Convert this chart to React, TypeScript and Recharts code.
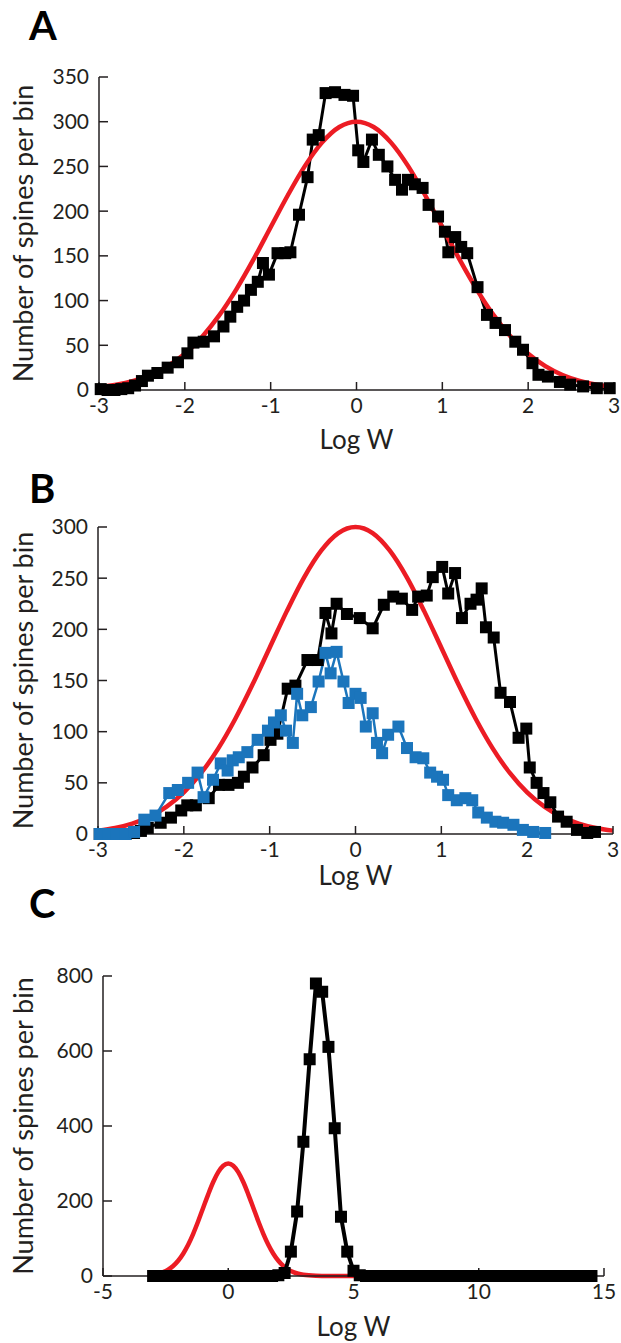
import React from 'react';
import { LineChart, Line, XAxis, YAxis } from 'recharts';

const ink = '#231f20';
const black = '#000000';
const red = '#ec1c24';
const blue = '#1b75bc';
const font = 'Lato, "Open Sans", sans-serif';

// Panel A - measured spines
const logWA = [-2.98, -2.9, -2.82, -2.74, -2.66, -2.58, -2.5, -2.43, -2.32, -2.2, -2.08, -1.97, -1.9, -1.78, -1.66, -1.55, -1.47, -1.39, -1.31, -1.23, -1.15, -1.09, -1.02, -0.92, -0.83, -0.77, -0.67, -0.57, -0.51, -0.44, -0.36, -0.25, -0.14, -0.04, 0.02, 0.08, 0.18, 0.26, 0.36, 0.45, 0.53, 0.6, 0.68, 0.77, 0.84, 0.95, 1.03, 1.07, 1.15, 1.22, 1.29, 1.41, 1.52, 1.62, 1.73, 1.85, 1.94, 2.05, 2.12, 2.23, 2.37, 2.49, 2.64, 2.8, 2.95];
const spinesA = [1, 0, 0, 1, 2, 5, 10, 16, 19, 25, 31, 41, 53, 54, 60, 71, 82, 93, 100, 112, 121, 142, 129, 153, 153, 154, 196, 238, 280, 285, 332, 333, 330, 329, 268, 255, 280, 263, 250, 235, 224, 235, 230, 226, 207, 194, 177, 154, 171, 160, 153, 115, 84, 75, 67, 54, 45, 30, 17, 15, 9, 6, 4, 2, 2];

// fitted lognormal (red), same in every panel
const fitLogW = [-3, -2.8, -2.6, -2.4, -2.2, -2, -1.8, -1.6, -1.4, -1.2, -1, -0.8, -0.6, -0.4, -0.2, 0, 0.2, 0.4, 0.6, 0.8, 1, 1.2, 1.4, 1.6, 1.8, 2, 2.2, 2.4, 2.6, 2.8, 3];
const fitSpines = [3.3, 5.9, 10.2, 16.8, 26.7, 40.6, 59.4, 83.4, 112.6, 146, 182, 217.8, 250.6, 276.9, 294.1, 300, 294.1, 276.9, 250.6, 217.8, 182, 146, 112.6, 83.4, 59.4, 40.6, 26.7, 16.8, 10.2, 5.9, 3.3];

// Panel B - black and blue populations
const logWB = [-2.98, -2.88, -2.78, -2.68, -2.58, -2.5, -2.42, -2.27, -2.15, -2.03, -1.96, -1.86, -1.71, -1.59, -1.48, -1.37, -1.3, -1.2, -1.07, -0.99, -0.91, -0.79, -0.7, -0.56, -0.44, -0.35, -0.28, -0.22, -0.1, 0.05, 0.2, 0.33, 0.44, 0.54, 0.66, 0.73, 0.83, 0.9, 1.01, 1.08, 1.16, 1.24, 1.34, 1.41, 1.47, 1.52, 1.61, 1.69, 1.8, 1.9, 1.99, 2.03, 2.11, 2.19, 2.27, 2.36, 2.46, 2.58, 2.7, 2.79];
const spinesB = [0, 0, 0, 0, 1, 3, 6, 11, 16, 23, 28, 28, 35, 48, 48, 50, 56, 65, 77, 92, 98, 142, 145, 170, 170, 216, 196, 225, 215, 211, 201, 224, 232, 230, 219, 232, 233, 251, 261, 235, 255, 211, 225, 229, 240, 202, 192, 138, 129, 94, 103, 65, 50, 40, 31, 17, 12, 4, 1, 2];
const logWBlue = [-2.98, -2.88, -2.78, -2.68, -2.58, -2.46, -2.33, -2.17, -2.07, -1.95, -1.84, -1.77, -1.66, -1.57, -1.49, -1.43, -1.36, -1.26, -1.14, -1.02, -0.95, -0.87, -0.81, -0.73, -0.68, -0.62, -0.52, -0.43, -0.35, -0.29, -0.22, -0.14, -0.08, 0, 0.06, 0.12, 0.2, 0.25, 0.31, 0.38, 0.5, 0.6, 0.7, 0.79, 0.87, 0.95, 1.02, 1.08, 1.18, 1.28, 1.36, 1.43, 1.53, 1.63, 1.72, 1.84, 1.95, 2.07, 2.21];
const spinesBlue = [0, 0, 0, 0, 2, 14, 18, 40, 43, 50, 60, 36, 53, 69, 62, 72, 75, 80, 92, 101, 109, 116, 101, 89, 137, 116, 124, 149, 177, 157, 178, 149, 128, 137, 133, 105, 118, 89, 79, 97, 105, 84, 75, 74, 60, 56, 53, 38, 33, 35, 33, 21, 16, 12, 11, 9, 4, 2, 1];

// Panel C - after potentiation
const logWC = [-3, -2.75, -2.5, -2.25, -2, -1.75, -1.5, -1.25, -1, -0.75, -0.5, -0.25, 0, 0.25, 0.5, 0.75, 1, 1.25, 1.5, 1.75, 2, 2.25, 2.5, 2.75, 3, 3.25, 3.5, 3.75, 4, 4.25, 4.5, 4.75, 5, 5.25, 5.5, 5.75, 6, 6.25, 6.5, 6.75, 7, 7.25, 7.5, 7.75, 8, 8.25, 8.5, 8.75, 9, 9.25, 9.5, 9.75, 10, 10.25, 10.5, 10.75, 11, 11.25, 11.5, 11.75, 12, 12.25, 12.5, 12.75, 13, 13.25, 13.5, 13.75, 14, 14.25, 14.5];
const spinesC = [0, 0, 0, 0, 0, 0, 0, 0, 0, 0, 0, 0, 0, 0, 0, 0, 0, 0, 0, 0, 2, 8, 65, 172, 358, 578, 780, 758, 611, 394, 158, 65, 14, 2, 0, 0, 0, 0, 0, 0, 0, 0, 0, 0, 0, 0, 0, 0, 0, 0, 0, 0, 0, 0, 0, 0, 0, 0, 0, 0, 0, 0, 0, 0, 0, 0, 0, 0, 0, 0, 0];
const fitLogWC = [-3, -2.8, -2.6, -2.4, -2.2, -2, -1.8, -1.6, -1.4, -1.2, -1, -0.8, -0.6, -0.4, -0.2, 0, 0.2, 0.4, 0.6, 0.8, 1, 1.2, 1.4, 1.6, 1.8, 2, 2.2, 2.4, 2.6, 2.8, 3, 3.5, 4, 5, 6, 8, 10, 12, 14.6];
const fitSpinesC = [3.3, 5.9, 10.2, 16.8, 26.7, 40.6, 59.4, 83.4, 112.6, 146, 182, 217.8, 250.6, 276.9, 294.1, 300, 294.1, 276.9, 250.6, 217.8, 182, 146, 112.6, 83.4, 59.4, 40.6, 26.7, 16.8, 10.2, 5.9, 3.3, 0.7, 0.1, 0, 0, 0, 0, 0, 0];

const ticksX = [-3, -2, -1, 0, 1, 2, 3];
const ticksYA = [0, 50, 100, 150, 200, 250, 300, 350];
const ticksYB = [0, 50, 100, 150, 200, 250, 300];
const ticksXC = [-5, 0, 5, 10, 15];
const ticksYC = [0, 200, 400, 600, 800];

const pairs = (xs: number[], ys: number[]) => xs.map((x, i) => ({ x, y: ys[i] }));

const squareDot = (size: number, fill: string) => (props: any) => {
  const { cx, cy, index } = props;
  if (cx == null || cy == null) return <g key={`e-${index}`} />;
  return <rect key={`sq-${index}`} x={cx - size / 2} y={cy - size / 2} width={size} height={size} fill={fill} />;
};

interface Series {
  data: { x: number; y: number }[];
  color: string;
  width: number;
  marker?: number;
}

interface PanelProps {
  top: number;
  height: number;
  plotTop: number;
  plotBottom: number;
  plotLeft: number;
  plotRight: number;
  xDomain: [number, number];
  xTicks: number[];
  yDomain: [number, number];
  yTicks: number[];
  labelOffset: number;
  series: Series[];
}

function Panel(p: PanelProps) {
  return (
    <div style={{ position: 'absolute', left: 0, top: p.top, width: 621, height: p.height }}>
      <LineChart
        width={621}
        height={p.height}
        margin={{ top: p.plotTop, right: 621 - p.plotRight, bottom: 0, left: 0 }}
      >
        <XAxis
          type="number"
          dataKey="x"
          domain={p.xDomain}
          ticks={p.xTicks}
          interval={0}
          height={p.height - p.plotBottom}
          tickSize={-8}
          tickMargin={16}
          axisLine={{ stroke: ink, strokeWidth: 1.5 }}
          tickLine={{ stroke: ink, strokeWidth: 1.5 }}
          tick={{ fontSize: 21, fill: ink, fontFamily: font }}
          label={{ value: 'Log W', position: 'insideBottom', offset: p.labelOffset, fontSize: 26, fill: ink, fontFamily: font }}
        />
        <YAxis
          type="number"
          domain={p.yDomain}
          ticks={p.yTicks}
          interval={0}
          width={p.plotLeft}
          tickSize={-9}
          tickMargin={19}
          axisLine={{ stroke: ink, strokeWidth: 1.5 }}
          tickLine={{ stroke: ink, strokeWidth: 1.5 }}
          tick={{ fontSize: 21, fill: ink, fontFamily: font }}
          label={{
            value: 'Number of spines per bin',
            angle: -90,
            position: 'center',
            dx: 23 - p.plotLeft / 2,
            fontSize: 27,
            fill: ink,
            fontFamily: font,
          }}
        />
        {p.series.map((s, i) => (
          <Line
            key={i}
            data={s.data}
            dataKey="y"
            type={s.marker ? 'linear' : 'monotone'}
            stroke={s.color}
            strokeWidth={s.width}
            dot={s.marker ? squareDot(s.marker, s.color) : false}
            activeDot={false}
            isAnimationActive={false}
          />
        ))}
      </LineChart>
    </div>
  );
}

export default function App() {
  const fitA = pairs(fitLogW, fitSpines);
  return (
    <div style={{ position: 'absolute', left: 0, top: 0, width: 621, height: 1343, background: '#fff', fontFamily: font }}>
      <Panel
        top={0}
        height={460}
        plotTop={77}
        plotBottom={390}
        plotLeft={99}
        plotRight={614}
        xDomain={[-3, 3]}
        xTicks={ticksX}
        yDomain={[0, 350]}
        yTicks={ticksYA}
        labelOffset={11}
        series={[
          { data: pairs(logWA, spinesA), color: black, width: 3, marker: 12 },
          { data: fitA, color: red, width: 4.5 },
        ]}
      />
      <Panel
        top={460}
        height={430}
        plotTop={67}
        plotBottom={374}
        plotLeft={98}
        plotRight={613}
        xDomain={[-3, 3]}
        xTicks={ticksX}
        yDomain={[0, 300]}
        yTicks={ticksYB}
        labelOffset={5}
        series={[
          { data: fitA, color: red, width: 4.5 },
          { data: pairs(logWB, spinesB), color: black, width: 3, marker: 12 },
          { data: pairs(logWBlue, spinesBlue), color: blue, width: 2.5, marker: 12 },
        ]}
      />
      <Panel
        top={890}
        height={453}
        plotTop={86}
        plotBottom={386}
        plotLeft={103}
        plotRight={604}
        xDomain={[-5, 15]}
        xTicks={ticksXC}
        yDomain={[0, 800]}
        yTicks={ticksYC}
        labelOffset={7}
        series={[
          { data: pairs(fitLogWC, fitSpinesC), color: red, width: 4.5 },
          { data: pairs(logWC, spinesC), color: black, width: 4, marker: 12 },
        ]}
      />
      <svg width={621} height={1343} style={{ position: 'absolute', left: 0, top: 0, pointerEvents: 'none' }}>
        <text x={29} y={40} fontSize={40} fontWeight={700} fill={black} fontFamily={font}>A</text>
        <text x={29} y={503} fontSize={40} fontWeight={700} fill={black} fontFamily={font}>B</text>
        <text x={29} y={918} fontSize={40} fontWeight={700} fill={black} fontFamily={font}>C</text>
      </svg>
    </div>
  );
}
